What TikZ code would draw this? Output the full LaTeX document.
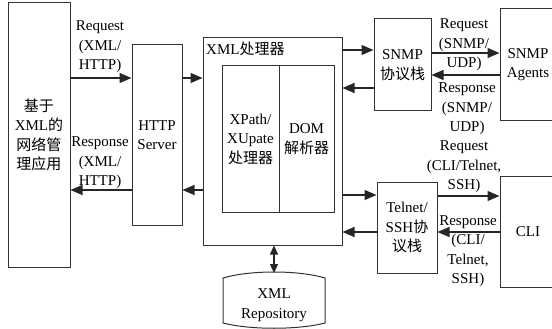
\documentclass[tikz,border=0pt]{standalone}
\usepackage{fontspec}
\setmainfont{Liberation Serif}
\newfontfamily\cjk{Noto Sans CJK SC}
\usetikzlibrary{arrows.meta,positioning,calc}

\begin{document}
\begin{tikzpicture}[x=1pt,y=-1pt]

    \tikzset{box/.style={draw=black!80, line width=1pt, inner sep=0pt, align=center},
             lbl/.style={inner sep=0pt, align=center},
             arr/.style={-{Triangle[length=12pt,width=10pt]}, line width=1.1pt, draw=black!85},
             dblarr/.style={{Triangle[length=9pt,width=8pt]}-{Triangle[length=9pt,width=8pt]}, line width=1.1pt, draw=black!85}}
    \tikzset{every node/.style={font=\rmfamily\fontsize{15}{19.5}\selectfont}}

    \useasboundingbox (0,0) rectangle (552,329);
    \clip (0,0) rectangle (552,329);

    % boxes
    \node[box, minimum width=62pt, minimum height=264pt] (app) at (39,135)
        {{\cjk 基于}\\XML{\cjk 的}\\{\cjk 网络管}\\{\cjk 理应用}};
    \node[box, minimum width=50pt, minimum height=180pt] (http) at (157,135) {HTTP\\Server};
    \node[box, minimum width=139pt, minimum height=207pt] (xmlp) at (272.5,141.5) {};
    \node[lbl, anchor=north west] (xmlptitle) at (206,42) {XML{\cjk 处理器}};
    \node[box, minimum width=57pt, minimum height=146pt] (xpath) at (250.5,139)
        {XPath/\\XUpate\\{\cjk 处理器}};
    \node[box, minimum width=55pt, minimum height=146pt] (dom) at (306.5,139)
        {DOM\\{\cjk 解析器}};
    \node[box, minimum width=57pt, minimum height=92pt] (snmp) at (402.5,65) {SNMP\\{\cjk 协议栈}};
    \node[box, minimum width=56pt, minimum height=111pt] (agents) at (528,64.5) {SNMP\\Agents};
    \node[box, minimum width=60pt, minimum height=91pt] (telnet) at (407,227.5)
        {Telnet/\\SSH{\cjk 协}\\{\cjk 议栈}};
    \node[box, minimum width=56pt, minimum height=111pt] (cli) at (528,231.5) {CLI};

    % repository
    \draw[box] (223,278) .. controls (250,270) and (298,270) .. (325,278) -- (325,323)
        .. controls (298,330) and (250,330) .. (223,323) -- cycle;
    \node[lbl] (repo) at (274,305) {XML\\Repository};
    \coordinate (repotop) at (274,273);

    % links
    \draw[arr] (app.east |- 0,78) -- (http.west |- 0,78);
    \draw[arr] (http.west |- 0,190) -- (app.east |- 0,190);
    \draw[arr] (http.east |- 0,78) -- (xmlp.west |- 0,78);
    \draw[arr] (xmlp.west |- 0,190) -- (http.east |- 0,190);
    \draw[arr] (xmlp.east |- 0,50) -- (snmp.west |- 0,50);
    \draw[arr] (snmp.west |- 0,88) -- (xmlp.east |- 0,88);
    \draw[arr] (snmp.east |- 0,53) -- (agents.west |- 0,53);
    \draw[arr] (agents.west |- 0,75) -- (snmp.east |- 0,75);
    \draw[arr] (xmlp.east |- 0,195) -- (telnet.west |- 0,195);
    \draw[arr] (telnet.west |- 0,232) -- (xmlp.east |- 0,232);
    \draw[arr] (telnet.east |- 0,196) -- (cli.west |- 0,196);
    \draw[arr] (cli.west |- 0,232) -- (telnet.east |- 0,232);
    \draw[dblarr] (xmlp.south -| repotop) -- (repotop);

    % link labels
    \node[lbl] (req1) at (100,47) {Request\\(XML/\\HTTP)};
    \node[lbl] (res1) at (100,163) {Response\\(XML/\\HTTP)};
    \node[lbl] (req2) at (464,45) {Request\\(SNMP/\\UDP)};
    \node[lbl] (res2) at (467,109) {Response\\(SNMP/\\UDP)};
    \node[lbl] (req3) at (464,167) {Request\\(CLI/Telnet,\\SSH)};
    \node[lbl] (res3) at (468,251) {Response\\(CLI/\\Telnet,\\SSH)};
\end{tikzpicture}
\end{document}
